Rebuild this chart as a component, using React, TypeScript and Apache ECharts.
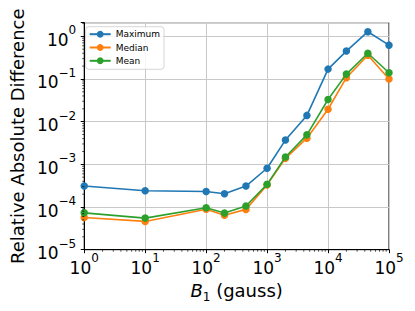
import React, { useEffect, useRef } from "react";
import * as echarts from "echarts";

const B1 = [1, 10, 100, 200, 450, 1000, 2000, 4500, 10000, 20000, 45000, 100000];
const maximum = [3.1e-4, 2.4e-4, 2.3e-4, 2.05e-4, 3.1e-4, 8.1e-4, 3.7e-3, 1.4e-2, 0.17, 0.45, 1.28, 0.62];
const median = [5.7e-5, 4.6e-5, 8.9e-5, 6.4e-5, 8.8e-5, 3.3e-4, 1.38e-3, 4.1e-3, 0.0195, 0.107, 0.36, 0.1];
const mean = [7.3e-5, 5.5e-5, 9.6e-5, 7.2e-5, 1.06e-4, 3.4e-4, 1.48e-3, 4.9e-3, 0.033, 0.13, 0.4, 0.14];
const seriesNames = ["Maximum", "Median", "Mean"];
const colors = ["#1f77b4", "#ff7f0e", "#2ca02c"];

const X_MIN = 1;
const X_MAX = 1e5;
const Y_MIN = 1e-5;
const Y_MAX = 2.08;

const FONT = "DejaVu Sans";

function minorTicks(lo: number, hi: number): number[] {
  const out: number[] = [];
  for (let k = Math.floor(Math.log10(lo)); k <= Math.ceil(Math.log10(hi)); k++) {
    for (let m = 2; m <= 9; m++) {
      const v = m * Math.pow(10, k);
      if (v > lo && v <= hi * 1.0001) out.push(v);
    }
  }
  return out;
}

function powLabel(v: number): string {
  const e = Math.log10(v);
  const r = Math.round(e);
  if (Math.abs(e - r) > 1e-6) return "";
  const s = r < 0 ? "\u2212" + Math.abs(r) : String(r);
  return "{b|10}{s|" + s + "}";
}

const labelRich = {
  b: { fontSize: 17, fontFamily: FONT, color: "#000", lineHeight: 24, verticalAlign: "bottom" },
  s: { fontSize: 12, fontFamily: FONT, color: "#000", lineHeight: 11, verticalAlign: "top" },
};

export default function App() {
  const ref = useRef<HTMLDivElement>(null);
  useEffect(() => {
    if (!ref.current) return;
    const chart = echarts.init(ref.current, undefined, { renderer: "svg" });
    const xMinor = minorTicks(X_MIN, X_MAX).map((v) => [v, Y_MIN]);
    const yMinor = minorTicks(Y_MIN, Y_MAX).map((v) => [X_MIN, v]);
    const lineSeries = [maximum, median, mean].map((vals, i) => ({
      name: seriesNames[i],
      type: "line",
      data: B1.map((x, j) => [x, vals[j]]),
      symbol: "circle",
      symbolSize: 7.5,
      lineStyle: { width: 1.6, color: colors[i] },
      itemStyle: { color: colors[i] },
      clip: false,
      z: 3 + i,
    }));
    chart.setOption({
      animation: false,
      backgroundColor: "#fff",
      grid: {
        left: 81.3,
        right: 26,
        top: 22.7,
        bottom: 61.3,
        show: true,
        borderColor: "#000",
        borderWidth: 1,
        backgroundColor: "transparent",
      },
      legend: {
        data: seriesNames,
        orient: "vertical",
        left: 85.7,
        top: 26.7,
        itemWidth: 21,
        itemHeight: 8.5,
        itemGap: 4.3,
        padding: [3, 4, 4, 3],
        backgroundColor: "rgba(255,255,255,0.8)",
        borderColor: "#cccccc",
        borderWidth: 0.8,
        borderRadius: 3,
        textStyle: { fontSize: 9, fontFamily: FONT, color: "#000" },
      },
      xAxis: {
        type: "log",
        logBase: 10,
        min: X_MIN,
        max: X_MAX,
        name: "{i|B}{sub|1}{n| (gauss)}",
        nameLocation: "middle",
        nameGap: 26.4,
        nameTextStyle: {
          rich: {
            i: { fontSize: 18, fontFamily: FONT, fontStyle: "italic", color: "#000", lineHeight: 22, verticalAlign: "top" },
            sub: { fontSize: 12, fontFamily: FONT, color: "#000", lineHeight: 11.2, verticalAlign: "bottom" },
            n: { fontSize: 18, fontFamily: FONT, color: "#000", lineHeight: 22, verticalAlign: "top" },
          },
        },
        axisLine: { show: true, lineStyle: { color: "#000", width: 1 } },
        axisTick: { show: true, length: 3.5, lineStyle: { color: "#000", width: 1 } },
        axisLabel: { margin: 2.6, formatter: powLabel, rich: labelRich, showMinLabel: true, showMaxLabel: true },
        splitLine: { show: true, lineStyle: { color: "#c8c8c8", width: 1 } },
      },
      yAxis: {
        type: "log",
        logBase: 10,
        min: Y_MIN,
        max: Y_MAX,
        name: "Relative Absolute Difference",
        nameLocation: "middle",
        nameGap: 52,
        nameTextStyle: { fontSize: 18, fontFamily: FONT, color: "#000" },
        axisLine: { show: true, lineStyle: { color: "#000", width: 1 } },
        axisTick: { show: true, length: 3.5, lineStyle: { color: "#000", width: 1 } },
        axisLabel: { margin: 8, formatter: powLabel, rich: labelRich },
        splitLine: { show: true, lineStyle: { color: "#c8c8c8", width: 1 } },
      },
      series: [
        ...lineSeries,
        {
          type: "custom",
          silent: true,
          clip: false,
          z: 10,
          data: xMinor,
          renderItem: (_p: any, api: any) => {
            const pt = api.coord([api.value(0), api.value(1)]);
            return {
              type: "line",
              shape: { x1: pt[0], y1: pt[1], x2: pt[0], y2: pt[1] + 2 },
              style: { stroke: "#000", lineWidth: 0.7 },
            };
          },
        },
        {
          type: "custom",
          silent: true,
          clip: false,
          z: 10,
          data: yMinor,
          renderItem: (_p: any, api: any) => {
            const pt = api.coord([api.value(0), api.value(1)]);
            return {
              type: "line",
              shape: { x1: pt[0], y1: pt[1], x2: pt[0] - 2, y2: pt[1] },
              style: { stroke: "#000", lineWidth: 0.7 },
            };
          },
        },
      ],
    });
    return () => chart.dispose();
  }, []);
  return (
    <div
      ref={ref}
      style={{ position: "fixed", left: 0, top: 0, width: 415, height: 311 }}
    />
  );
}
